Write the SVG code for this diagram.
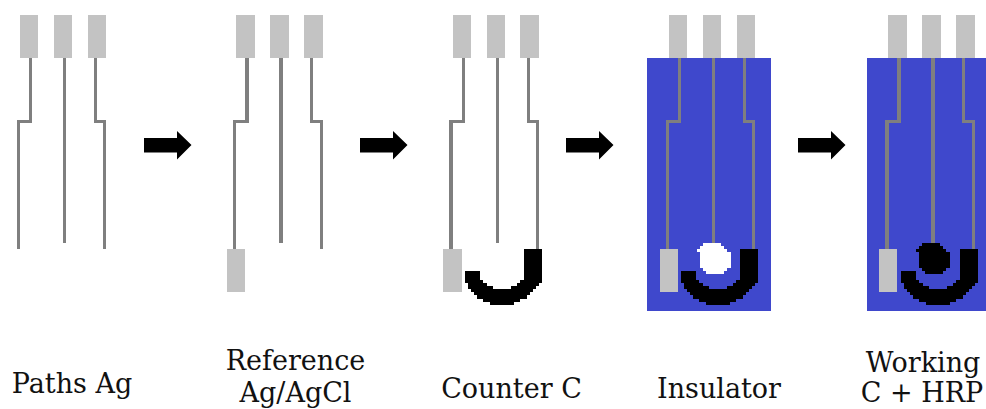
<svg xmlns="http://www.w3.org/2000/svg" width="986" height="409" viewBox="0 0 986 409">
<style>
.pad{fill:#c3c3c3}
.tr{fill:#7f7f7f}
.ins{fill:#3f48cc}
.blk{fill:#000}
text{font-family:"DejaVu Serif","Liberation Serif",serif;font-size:27px;fill:#111;text-anchor:middle}
</style>
<defs>
<path id="arrow" d="M0 138H33V131L47.5 145L33 159.5V152.5H0Z"/>
<path id="counter" d="M104 49H122V83H119V86H116V89H113V92H110V95H107V99H100V102H94V105H70V102H63V99H57V95H54V92H51V89H48V83H45V71H60V80H63V83H67V86H73V89H91V86H97V83H100V80H104Z"/>
<path id="dot" d="M9 0H24V3H27V6H30V9H34V25H30V28H27V31H9V28H6V25H3V9H0V6H3V3H6V0H9Z"/>
</defs>
<g id="paths-ag">
<rect class="pad" x="20" y="15" width="18" height="43"/><rect class="pad" x="54" y="15" width="18" height="43"/><rect class="pad" x="88" y="15" width="18" height="43"/>
<path class="tr" d="M29 58H32V123H20V249H17V120H29Z"/>
<rect class="tr" x="63" y="58" width="3" height="185"/>
<path class="tr" d="M94 58H97V120H106V249H103V123H94Z"/>
<text x="72" y="393">Paths Ag</text>
</g>
<g id="reference">
<rect class="pad" x="236" y="15" width="19" height="43"/><rect class="pad" x="270" y="15" width="19" height="43"/><rect class="pad" x="304" y="15" width="19" height="43"/>
<path class="tr" d="M245 58H249V123H236V249H233V120H245Z"/>
<rect class="tr" x="279" y="58" width="4" height="185"/>
<path class="tr" d="M310 58H313V120H323V249H320V123H310Z"/>
<rect class="pad" x="227" y="249" width="18" height="43"/>
<text x="295.500" y="370">Reference</text>
<text x="295.500" y="402">Ag/AgCl</text>
</g>
<g id="counter-c">
<rect class="pad" x="453" y="15" width="18" height="43"/><rect class="pad" x="487" y="15" width="18" height="43"/><rect class="pad" x="520" y="15" width="19" height="43"/>
<path class="tr" d="M462 58H465V123H453V249H449V120H462Z"/>
<rect class="tr" x="496" y="58" width="3" height="185"/>
<path class="tr" d="M527 58H530V120H539V249H536V123H527Z"/>
<rect class="pad" x="443" y="249" width="19" height="43"/>
<use href="#counter" x="420" y="200"/>
<text x="511.500" y="398">Counter C</text>
</g>
<g id="insulator">
<rect class="pad" x="669" y="15" width="18" height="43"/><rect class="pad" x="703" y="15" width="18" height="43"/><rect class="pad" x="737" y="15" width="18" height="43"/>
<rect class="ins" x="647" y="58" width="124" height="253"/>
<path class="tr" d="M678 58H681V123H669V249H666V120H678Z"/>
<rect class="tr" x="712" y="58" width="3" height="185"/>
<path class="tr" d="M743 58H746V120H755V249H752V123H743Z"/>
<rect class="pad" x="660" y="249" width="18" height="43"/>
<use href="#counter" x="636" y="200"/>
<use href="#dot" x="697" y="243" fill="#fff"/>
<text x="719" y="398">Insulator</text>
</g>
<g id="working">
<rect class="pad" x="888" y="15" width="19" height="43"/><rect class="pad" x="922" y="15" width="19" height="43"/><rect class="pad" x="956" y="15" width="19" height="43"/>
<rect class="ins" x="867" y="58" width="119" height="253"/>
<path class="tr" d="M897 58H901V123H889V249H885V120H897Z"/>
<rect class="tr" x="931" y="58" width="4" height="185"/>
<path class="tr" d="M962 58H965V120H975V249H972V123H962Z"/>
<rect class="pad" x="879" y="249" width="18" height="43"/>
<use href="#counter" x="856" y="200"/>
<use href="#dot" x="916" y="243" fill="#000"/>
<text x="923" y="372">Working</text>
<text x="922" y="402">C + HRP</text>
</g>
<g id="connectors">
<use href="#arrow" x="144"/>
<use href="#arrow" x="360"/>
<use href="#arrow" x="566"/>
<use href="#arrow" x="798"/>
</g>
</svg>
